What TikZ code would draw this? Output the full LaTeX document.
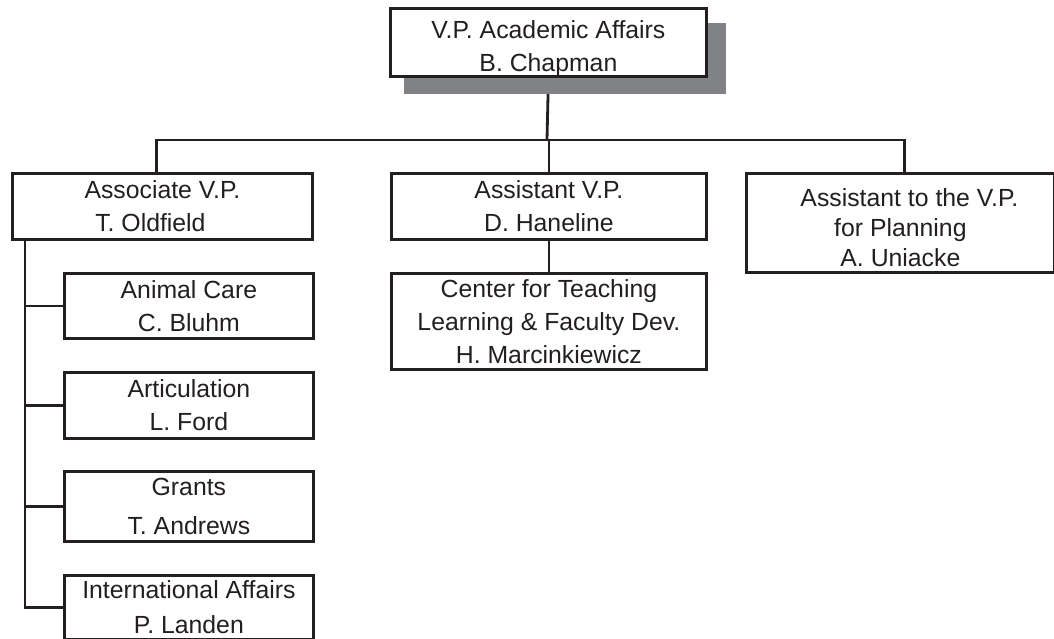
\documentclass[tikz,border=0pt]{standalone}
\usepackage{fontspec}
\setmainfont{Liberation Sans}
\definecolor{ink}{RGB}{35,31,32}
\definecolor{shadowgray}{RGB}{128,130,133}
\begin{document}
\begin{tikzpicture}[x=1pt,y=-1pt,
  orgbox/.style={draw=ink, line width=2.8pt, fill=white, text=ink, inner sep=0pt,
    align=center, anchor=north west, font=\fontsize{24.8}{33}\selectfont},
  link/.style={draw=ink, line width=2.8pt}]
\useasboundingbox (0,0) rectangle (1054,639);
\pgfdeclarelayer{back}\pgfsetlayers{back,main}
% nodes
\node[orgbox, minimum width=316pt, minimum height=66pt] (vp) at (389,7) {\rule{0pt}{30pt}V.P. Academic Affairs\\B. Chapman};
\node[orgbox, minimum width=300pt, minimum height=66pt] (assoc) at (11,172) {Associate V.P.\\T. Oldfield\hspace*{24pt}};
\node[orgbox, minimum width=315pt, minimum height=66pt] (asst) at (390,172) {Assistant V.P.\\D. Haneline};
\node[orgbox, minimum width=308pt, minimum height=99pt, font=\fontsize{24.8}{30}\selectfont] (plan) at (745,172) {\rule{0pt}{28pt}\hspace*{18pt}Assistant to the V.P.\\for Planning\\A. Uniacke};
\node[orgbox, minimum width=315pt, minimum height=96pt] (ctl) at (390,272) {Center for Teaching\\Learning \& Faculty Dev.\\H. Marcinkiewicz};
\node[orgbox, minimum width=249pt, minimum height=65pt] (animal) at (63,272) {Animal Care\\C. Bluhm};
\node[orgbox, minimum width=249pt, minimum height=66pt] (artic) at (63,371) {Articulation\\L. Ford};
\node[orgbox, minimum width=249pt, minimum height=70pt] (grants) at (63,470) {Grants\\[6pt]T. Andrews};
\node[orgbox, minimum width=249pt, minimum height=64pt] (intl) at (63,574) {International Affairs\\[2pt]P. Landen};
\coordinate (bar) at (547,140);
% connectors and shadow behind boxes
\begin{pgfonlayer}{back}
\draw[link] (vp.south) -- (bar);
\draw[link] ([xshift=-6pt]assoc.north) |- (bar);
\draw[link] ([xshift=4pt]plan.north) |- (bar);
\draw[link] (asst.north) -- (asst.north |- bar);
\draw[link] (asst.south) -- (ctl.north);
\draw[link] ([xshift=14pt]assoc.south west) |- (animal.west);
\draw[link] ([xshift=14pt]assoc.south west) |- (artic.west);
\draw[link] ([xshift=14pt]assoc.south west) |- (grants.west);
\draw[link] ([xshift=14pt]assoc.south west) |- (intl.west);
\fill[shadowgray] ([shift={(15pt,-16pt)}]vp.south west) rectangle ([shift={(18pt,-16pt)}]vp.north east);
\end{pgfonlayer}
\end{tikzpicture}
\end{document}
